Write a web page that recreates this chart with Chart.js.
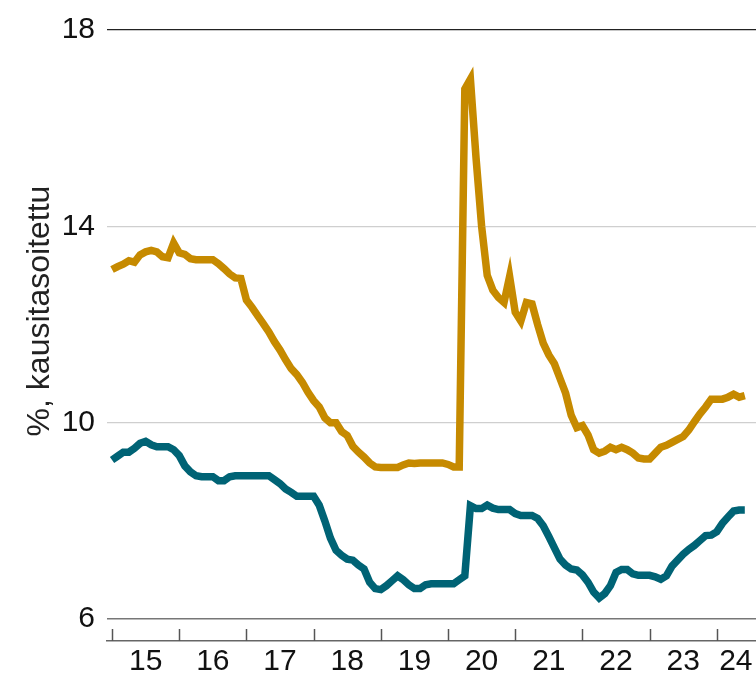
<!DOCTYPE html>
<html lang="fi">

<head>
    <meta charset="UTF-8">
    <title>Kausitasoitettu</title>
    <script src="https://cdn.jsdelivr.net/npm/chart.js"></script>
    <style>
        html, body {
            margin: 0;
            padding: 0;
            background: #fff;
        }

        #wrap {
            width: 756px;
            height: 678px;
        }
    </style>
</head>

<body>
    <div id="wrap"><canvas id="chart" width="756" height="678"></canvas></div>

    <script>
        // months from Jan 2015 (index 0) to Jun 2024
        const goldValues = [
            13.12, 13.18, 13.23, 13.30, 13.27, 13.42, 13.48, 13.51, 13.48, 13.38, 13.36, 13.66,
            13.46, 13.43, 13.34, 13.32, 13.32, 13.32, 13.32, 13.24, 13.14, 13.03, 12.95, 12.94,
            12.50, 12.35, 12.18, 12.02, 11.85, 11.65, 11.48, 11.28, 11.10, 10.98, 10.82, 10.62,
            10.45, 10.32, 10.10, 10.00, 10.00, 9.82, 9.74, 9.52, 9.40, 9.30, 9.18, 9.10,
            9.09, 9.09, 9.09, 9.09, 9.14, 9.18, 9.17, 9.18, 9.18, 9.18, 9.18, 9.18,
            9.15, 9.10, 9.10, 16.80, 17.00, 15.40, 14.00, 13.00, 12.70, 12.55, 12.45, 12.98,
            12.25, 12.07, 12.45, 12.42, 12.00, 11.62, 11.38, 11.20, 10.90, 10.60, 10.15, 9.90,
            9.94, 9.75, 9.45, 9.38, 9.42, 9.50, 9.45, 9.50, 9.45, 9.38, 9.28, 9.26,
            9.26, 9.38, 9.50, 9.54, 9.60, 9.66, 9.72, 9.85, 10.02, 10.18, 10.32, 10.48,
            10.48, 10.48, 10.52, 10.58, 10.52, 10.55
        ];
        const tealValues = [
            9.24, 9.32, 9.40, 9.40, 9.48, 9.58, 9.62, 9.55, 9.51, 9.51, 9.51, 9.45,
            9.33, 9.12, 9.00, 8.92, 8.90, 8.90, 8.90, 8.82, 8.82, 8.90, 8.92, 8.92,
            8.92, 8.92, 8.92, 8.92, 8.92, 8.84, 8.76, 8.65, 8.58, 8.50, 8.50, 8.50,
            8.50, 8.32, 8.00, 7.65, 7.40, 7.30, 7.22, 7.20, 7.10, 7.02, 6.75, 6.62,
            6.60, 6.68, 6.78, 6.88, 6.80, 6.70, 6.62, 6.62, 6.70, 6.72, 6.72, 6.72,
            6.72, 6.72, 6.80, 6.88, 8.31, 8.25, 8.25, 8.32, 8.26, 8.23, 8.23, 8.23,
            8.15, 8.11, 8.11, 8.11, 8.05, 7.90, 7.68, 7.45, 7.22, 7.10, 7.02, 7.00,
            6.90, 6.75, 6.55, 6.43, 6.52, 6.68, 6.95, 7.01, 7.01, 6.92, 6.89, 6.89,
            6.89, 6.86, 6.81, 6.88, 7.08, 7.20, 7.32, 7.42, 7.50, 7.60, 7.70, 7.71,
            7.78, 7.95, 8.08, 8.20, 8.22, 8.22
        ];
        const yearLabels = ['15', '16', '17', '18', '19', '20', '21', '22', '23', '24'];
        const yearLabelPos = [6, 18, 30, 42, 54, 66, 78, 90, 102, 111.4];
        const yearStarts = [0, 12, 24, 36, 48, 60, 72, 84, 96, 108];
        const yTicks = [6, 10, 14, 18];
        const yTitle = '%, kausitasoitettu';

        const FONT = "'Liberation Sans', Arial, sans-serif";

        const toPoints = vals => vals.map((v, i) => ({ x: i, y: v }));

        // little year tick marks standing on the x axis line, plus the y title
        const decorPlugin = {
            id: 'decor',
            afterDraw(chart) {
                const ctx = chart.ctx;
                const x = chart.scales.x;
                ctx.save();
                ctx.strokeStyle = '#555';
                ctx.lineWidth = 1.5;
                yearStarts.forEach(m => {
                    const px = Math.round(x.getPixelForValue(m)) + 0.5;
                    ctx.beginPath();
                    ctx.moveTo(px, x.top);
                    ctx.lineTo(px, x.top - 12);
                    ctx.stroke();
                });

                // title sits a bit above the middle of the plot
                ctx.translate(49, 311);
                ctx.rotate(-Math.PI / 2);
                ctx.fillStyle = '#222';
                ctx.font = '32px ' + FONT;
                ctx.textAlign = 'center';
                ctx.textBaseline = 'alphabetic';
                ctx.fillText(yTitle, 0, 0);
                ctx.restore();
            }
        };

        const ctx = document.getElementById('chart').getContext('2d');
        new Chart(ctx, {
            type: 'line',
            data: {
                datasets: [{
                    data: toPoints(goldValues),
                    borderColor: '#c68a00',
                    borderWidth: 7.5,
                    pointRadius: 0,
                    tension: 0,
                    fill: false
                }, {
                    data: toPoints(tealValues),
                    borderColor: '#006375',
                    borderWidth: 7.5,
                    pointRadius: 0,
                    tension: 0,
                    fill: false
                }]
            },
            plugins: [decorPlugin],
            options: {
                responsive: false,
                animation: false,
                layout: { padding: { top: 28, right: 0, bottom: 0, left: 0 } },
                plugins: {
                    legend: { display: false },
                    tooltip: { enabled: false }
                },
                scales: {
                    x: {
                        type: 'linear',
                        min: -0.9,
                        max: 115,
                        afterBuildTicks: s => { s.ticks = yearLabelPos.map(v => ({ value: v })); },
                        afterFit: s => { s.height = 37; },
                        ticks: {
                            autoSkip: false,
                            maxRotation: 0,
                            padding: 3,
                            color: '#111',
                            font: { family: FONT, size: 30 },
                            callback: (v, i) => yearLabels[i]
                        },
                        grid: { display: false, drawTicks: false },
                        border: { display: true, color: '#666', width: 1.5 }
                    },
                    y: {
                        min: 5.553,
                        max: 18,
                        afterBuildTicks: s => { s.ticks = yTicks.map(v => ({ value: v })); },
                        afterFit: s => { s.width = 107; },
                        ticks: {
                            padding: 12,
                            color: '#111',
                            font: { family: FONT, size: 30 }
                        },
                        grid: {
                            drawTicks: false,
                            color: c => c.tick.value === 18 ? '#222' : (c.tick.value === 6 ? '#777' : '#cfcfcf'),
                            lineWidth: c => c.tick.value === 6 ? 1.5 : 1.2
                        },
                        border: { display: false }
                    }
                }
            }
        });
    </script>
</body>

</html>
